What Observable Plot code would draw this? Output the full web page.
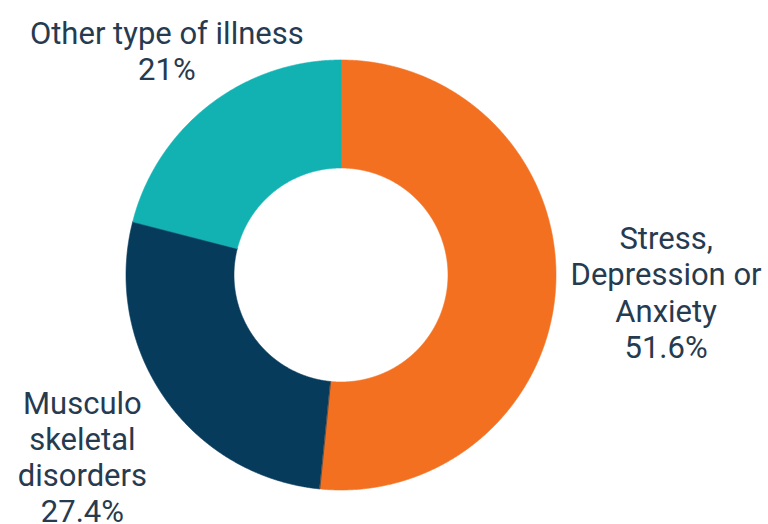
<!DOCTYPE html>
<html>
<head>
<meta charset="utf-8">
<script src="https://cdn.jsdelivr.net/npm/d3@7"></script>
<script src="https://cdn.jsdelivr.net/npm/@observablehq/plot@0.6"></script>
<style>
  html, body { margin: 0; padding: 0; background: #ffffff; }
  #chart { width: 768px; height: 524px; }
</style>
</head>
<body>
<div id="chart"></div>
<script>
// ---- data ----
const categories = ["Stress, Depression or Anxiety", "Musculo skeletal disorders", "Other type of illness"];
const labelLines = ["Stress,\nDepression or\nAnxiety", "Musculo\nskeletal\ndisorders", "Other type of illness"];
const values = [51.6, 27.4, 21];
const valueLabels = ["51.6%", "27.4%", "21%"];
const colors = ["#f37021", "#073b5c", "#12b2b3"];

// ---- layout ----
const W = 768, H = 524;
const cx = 341, cy = 275;        // pixel centre of the donut
const outerR = 215, innerR = 107;
const labelR = [325, 316, 285];  // radial distance of each label block

const pie = d3.pie().sort(null).value(d => d)(values);

// ring polygons (outer edge paired with inner edge)
const ringPts = [];
pie.forEach((p, i) => {
  const n = Math.max(2, Math.ceil((p.endAngle - p.startAngle) / 0.005));
  for (let k = 0; k <= n; k++) {
    const a = p.startAngle + (p.endAngle - p.startAngle) * k / n;
    ringPts.push({
      cat: categories[i],
      x1: outerR * Math.sin(a), y1: outerR * Math.cos(a),
      x2: innerR * Math.sin(a), y2: innerR * Math.cos(a)
    });
  }
});

const labels = pie.map((p, i) => {
  const a = (p.startAngle + p.endAngle) / 2;
  return {
    text: labelLines[i] + "\n" + valueLabels[i],
    x: labelR[i] * Math.sin(a),
    y: labelR[i] * Math.cos(a)
  };
});

const chart = Plot.plot({
  width: W,
  height: H,
  margin: 0,
  x: { domain: [-cx, W - cx], axis: null },
  y: { domain: [cy - H, cy], axis: null },
  color: { domain: categories, range: colors },
  style: { background: "#ffffff", fontFamily: "Roboto, sans-serif" },
  marks: [
    Plot.area(ringPts, { x1: "x1", y1: "y1", x2: "x2", y2: "y2", z: "cat", fill: "cat", stroke: "cat", strokeWidth: 0.6 }),
    Plot.text(labels, {
      x: "x", y: "y", text: "text",
      fontSize: 31, lineHeight: 1.17, fill: "#263b50",
      textAnchor: "middle", lineAnchor: "middle", fontFamily: "Roboto"
    })
  ]
});
document.getElementById("chart").appendChild(chart);
</script>
</body>
</html>
